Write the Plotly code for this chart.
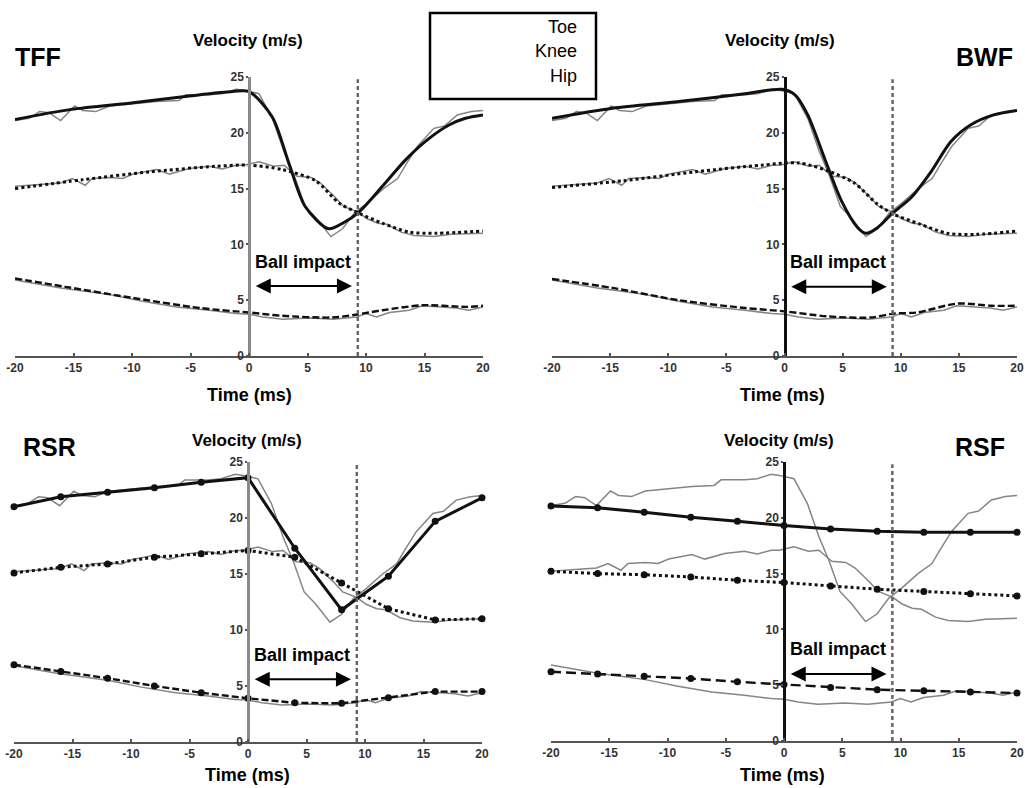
import plotly.graph_objects as go

W, H = 1025, 788

# ---------------- data ----------------
tick_vals_x = [-20, -15, -10, -5, 0, 5, 10, 15, 20]
tick_text_x = ["-20", "-15", "-10", "-5", "0", "5", "10", "15", "20"]
tick_vals_y = [0, 5, 10, 15, 20, 25]
impact_t = 9.3

# measured (grey) curves
meas_toe_t = [-20, -18.8, -17.9, -17.1, -16.1, -14.9, -14.2, -13.1, -11.9, -9.9, -7.9, -6.0, -5.4, -3.4,
              -2.3, -1.1, -0.4, 0.85, 2.0, 3.0, 3.85, 4.8, 5.8, 7.0, 8.0, 9.0, 10.1, 11.5, 12.7, 13.5,
              14.4, 15.8, 16.7, 17.8, 19.0, 20]
meas_toe_v = [21.1, 21.3, 21.9, 21.8, 21.1, 22.4, 22.0, 21.9, 22.4, 22.6, 22.8, 22.9, 23.4, 23.4,
              23.5, 23.9, 23.8, 23.5, 21.3, 18.3, 16.2, 13.4, 12.3, 10.7, 11.4, 12.8, 13.7, 15.0, 15.9, 17.3,
              18.8, 20.4, 20.6, 21.6, 21.9, 22.0]
meas_knee_t = [-20, -16.1, -15.1, -14.0, -13.4, -11.9, -10.8, -9.9, -7.9, -6.8, -5.1, -3.4, -2.3, -1.1,
               -0.4, 0.85, 2.1, 3.0, 4.1, 5.3, 6.1, 7.3, 8.1, 9.3, 10.1, 11.0, 11.8, 13.0, 14.1, 15.8,
               17.3, 20]
meas_knee_v = [15.2, 15.5, 15.9, 15.3, 15.9, 16.0, 15.9, 16.3, 16.7, 16.3, 16.8, 17.0, 16.75, 17.1,
               17.1, 17.4, 17.0, 17.1, 16.1, 16.0, 15.5, 14.3, 13.4, 12.9, 12.3, 11.9, 11.8, 11.1, 10.8, 10.7,
               10.9, 11.0]
meas_hip_t = [-20, -16.1, -14.0, -11.9, -9.1, -6.2, -3.4, -1.1, 0, 1.2, 2.9, 5.2, 7.2, 9.2, 10.0, 10.9,
              12.0, 13.7, 14.8, 16.0, 17.7, 18.8, 20]
meas_hip_v = [6.8, 6.1, 5.8, 5.5, 4.9, 4.4, 4.1, 3.8, 3.74, 3.5, 3.3, 3.4, 3.3, 3.5, 3.8, 3.5,
              3.9, 4.1, 4.5, 4.4, 4.3, 4.1, 4.4]

# TFF model
tff_toe_t = [-20, -15.2, -9.9, -5.1, -1.4, 0, 2.0, 3.4, 4.8, 6.8, 8.0, 9.4, 11.4, 13.4, 15.4, 17.1, 18.5, 20]
tff_toe_v = [21.2, 22.1, 22.7, 23.3, 23.7, 23.7, 21.4, 17.3, 13.4, 11.4, 11.9, 12.9, 15.2, 17.6, 19.5, 20.7, 21.3, 21.6]
tff_knee_t = [-20, -14.2, -8.5, -2.85, 0, 2.85, 5.7, 7.7, 9.4, 11.4, 13.7, 16.0, 20]
tff_knee_v = [15.0, 15.8, 16.5, 17.0, 17.1, 16.7, 15.7, 13.7, 12.8, 11.9, 11.1, 11.0, 11.2]
tff_hip_t = [-20, -15.7, -9.9, -4.2, 0, 2.85, 7.1, 9.1, 11.4, 14.9, 18.6, 20]
tff_hip_v = [6.95, 6.2, 5.2, 4.3, 3.9, 3.6, 3.45, 3.7, 4.1, 4.55, 4.4, 4.5]

# BWF model
bwf_toe_t = [-20, -14.8, -9.1, -3.4, -0.2, 0.9, 2.0, 3.45, 4.9, 6.3, 7.0, 8.0, 9.3, 10.9, 12.6, 14.3, 16.0, 18.0, 20]
bwf_toe_v = [21.3, 22.2, 22.8, 23.5, 23.9, 23.4, 21.6, 17.7, 13.9, 11.5, 11.0, 11.5, 12.8, 14.2, 16.5, 19.2, 20.7, 21.6, 22.0]
bwf_knee_t = [-20, -13.9, -7.7, -2.0, 1.2, 3.7, 6.0, 8.0, 9.4, 11.7, 14.0, 16.5, 20]
bwf_knee_v = [15.1, 15.7, 16.5, 17.1, 17.3, 16.6, 15.5, 13.6, 12.7, 11.8, 11.0, 10.9, 11.2]
bwf_hip_t = [-20, -14.8, -9.1, -3.4, 0, 3.7, 7.4, 9.4, 11.4, 14.9, 17.8, 20]
bwf_hip_v = [6.9, 6.1, 5.0, 4.3, 4.0, 3.55, 3.45, 3.8, 3.9, 4.7, 4.5, 4.5]

# RSR / RSF models (markers every 4 ms)
node_t = [-20, -16, -12, -8, -4, 0, 4, 8, 12, 16, 20]
rsr_toe_v = [21.0, 21.9, 22.3, 22.7, 23.2, 23.6, 17.3, 11.8, 14.8, 19.7, 21.8]
rsr_knee_v = [15.1, 15.6, 15.9, 16.5, 16.8, 17.1, 16.5, 14.2, 11.9, 10.9, 11.0]
rsr_hip_v = [6.9, 6.3, 5.7, 5.0, 4.4, 3.9, 3.5, 3.45, 3.95, 4.5, 4.5]
rsf_toe_v = [21.06, 20.9, 20.5, 20.05, 19.7, 19.3, 19.0, 18.8, 18.7, 18.7, 18.7]
rsf_knee_v = [15.2, 15.0, 14.9, 14.7, 14.4, 14.2, 13.9, 13.6, 13.4, 13.2, 13.0]
rsf_hip_v = [6.2, 6.0, 5.8, 5.6, 5.3, 5.07, 4.8, 4.6, 4.5, 4.4, 4.3]

legend_labels = ["Toe", "Knee", "Hip"]

# ---------------- layout helpers ----------------
def px(x):
    return x / W


def py(y):
    return 1 - y / H


FONT = "Liberation Sans, Arial, sans-serif"
GREY = "#858585"

panels = [
    dict(name="TFF", xd=(15, 483), yd=(77, 356), axcol="#8a8a8a", label=(38, 57), vel=(248, 40), time=(249, 395),
         arrow_v=6.27, text_v=8.4, kind="smooth",
         model=[(tff_toe_t, tff_toe_v), (tff_knee_t, tff_knee_v), (tff_hip_t, tff_hip_v)]),
    dict(name="BWF", xd=(552, 1017), yd=(77, 356), axcol="#111111", label=(984, 57), vel=(780, 40), time=(782, 395),
         arrow_v=6.2, text_v=8.4, kind="smooth",
         model=[(bwf_toe_t, bwf_toe_v), (bwf_knee_t, bwf_knee_v), (bwf_hip_t, bwf_hip_v)]),
    dict(name="RSR", xd=(14, 482), yd=(462, 742), axcol="#8a8a8a", label=(49, 447), vel=(247, 440), time=(247, 775),
         arrow_v=5.6, text_v=7.8, kind="nodes",
         model=[(node_t, rsr_toe_v), (node_t, rsr_knee_v), (node_t, rsr_hip_v)]),
    dict(name="RSF", xd=(551, 1017), yd=(462, 741), axcol="#111111", label=(980, 447), vel=(779, 440), time=(782, 775),
         arrow_v=6.0, text_v=8.2, kind="nodes",
         model=[(node_t, rsf_toe_v), (node_t, rsf_knee_v), (node_t, rsf_hip_v)]),
]

styles = [dict(dash="solid", width=3.0), dict(dash="dot", width=3.0), dict(dash="7px,3px", width=2.4)]
meas = [(meas_toe_t, meas_toe_v), (meas_knee_t, meas_knee_v), (meas_hip_t, meas_hip_v)]

fig = go.Figure()
annotations = []
shapes = []
layout_axes = {}

for i, p in enumerate(panels, start=1):
    xs = "" if i == 1 else str(i)
    xa, ya = "x" + xs, "y" + xs
    # measured grey lines
    for (tt, vv) in meas:
        fig.add_trace(go.Scatter(x=tt, y=vv, mode="lines", xaxis=xa, yaxis=ya, showlegend=False,
                                 line=dict(color=GREY, width=1.5), hoverinfo="skip"))
    # model black lines
    for k, (tt, vv) in enumerate(p["model"]):
        st = styles[k]
        dash = st["dash"]
        if p["name"] == "RSF" and k == 2:
            dash = "10px,5px"
        if p["kind"] == "smooth":
            fig.add_trace(go.Scatter(x=tt, y=vv, mode="lines", xaxis=xa, yaxis=ya, showlegend=False,
                                     line=dict(color="#111111", width=st["width"], dash=dash,
                                               shape="spline", smoothing=0.8),
                                     hoverinfo="skip"))
        else:
            fig.add_trace(go.Scatter(x=tt, y=vv, mode="lines+markers", xaxis=xa, yaxis=ya, showlegend=False,
                                     line=dict(color="#111111", width=st["width"], dash=dash),
                                     marker=dict(color="#111111", size=7), cliponaxis=False,
                                     hoverinfo="skip"))

    xdom = [px(p["xd"][0]), px(p["xd"][1])]
    ydom = [py(p["yd"][1]), py(p["yd"][0])]
    layout_axes["xaxis" + xs] = dict(domain=xdom, range=[-20, 20], anchor=ya, tickmode="array",
                                     tickvals=tick_vals_x, ticktext=tick_text_x, ticks="inside", ticklen=3,
                                     tickwidth=2, tickcolor="#555555", automargin=False,
                                     showline=True, linecolor="#555555", linewidth=2, showgrid=False,
                                     zeroline=False, fixedrange=True,
                                     tickfont=dict(family=FONT, size=12, color="#333333", weight="bold"))
    layout_axes["yaxis" + xs] = dict(domain=ydom, range=[0, 25], anchor="free", automargin=False,
                                     position=(xdom[0] + xdom[1]) / 2, tickmode="array",
                                     tickvals=tick_vals_y, ticks="outside", ticklen=2, tickwidth=2,
                                     tickcolor="#555555", showline=True, linecolor=p["axcol"], linewidth=2.5,
                                     showgrid=False, zeroline=False, fixedrange=True,
                                     tickfont=dict(family=FONT, size=12, color="#333333", weight="bold"))

    # impact dashed line
    shapes.append(dict(type="line", xref=xa, yref=ya, x0=impact_t, x1=impact_t, y0=0, y1=24.8,
                       line=dict(color="#666666", width=2.5, dash="4px,3px")))
    # ball impact arrow
    annotations.append(dict(xref=xa, yref=ya, axref=xa, ayref=ya, x=8.8, y=p["arrow_v"], ax=0.45,
                            ay=p["arrow_v"], text="", showarrow=True, arrowhead=2, startarrowhead=2,
                            arrowside="end+start", arrowsize=1.5, startarrowsize=1.5, arrowwidth=2,
                            arrowcolor="#000000"))
    annotations.append(dict(xref=xa, yref=ya, x=4.6, y=p["text_v"], text="<b>Ball impact</b>",
                            showarrow=False, font=dict(family=FONT, size=18, color="#000000")))
    # titles
    annotations.append(dict(xref="paper", yref="paper", x=px(p["vel"][0]), y=py(p["vel"][1]),
                            text="<b>Velocity (m/s)</b>", showarrow=False, xanchor="center", yanchor="middle",
                            font=dict(family=FONT, size=17, color="#000000")))
    annotations.append(dict(xref="paper", yref="paper", x=px(p["time"][0]), y=py(p["time"][1]),
                            text="<b>Time (ms)</b>", showarrow=False, xanchor="center", yanchor="middle",
                            font=dict(family=FONT, size=18, color="#000000")))
    annotations.append(dict(xref="paper", yref="paper", x=px(p["label"][0]), y=py(p["label"][1]),
                            text="<b>" + p["name"] + "</b>", showarrow=False, xanchor="center",
                            yanchor="middle", font=dict(family=FONT, size=25, color="#000000")))

# legend box
shapes.append(dict(type="rect", xref="paper", yref="paper", x0=px(430), x1=px(596), y0=py(99), y1=py(13),
                   line=dict(color="#000000", width=2.5), fillcolor="rgba(0,0,0,0)"))
for lbl, yy in zip(legend_labels, [27, 51, 76]):
    annotations.append(dict(xref="paper", yref="paper", x=px(579), y=py(yy), text=lbl, showarrow=False,
                            xanchor="right", yanchor="middle", font=dict(family=FONT, size=18, color="#000000")))

fig.update_layout(width=W, height=H, margin=dict(l=0, r=0, t=0, b=0, autoexpand=False), paper_bgcolor="white",
                  plot_bgcolor="white", showlegend=False, annotations=annotations, shapes=shapes,
                  **layout_axes)

fig.write_html("out.html", config={"displayModeBar": False},
               post_script="document.body.style.margin='0';document.body.style.overflow='hidden';")
